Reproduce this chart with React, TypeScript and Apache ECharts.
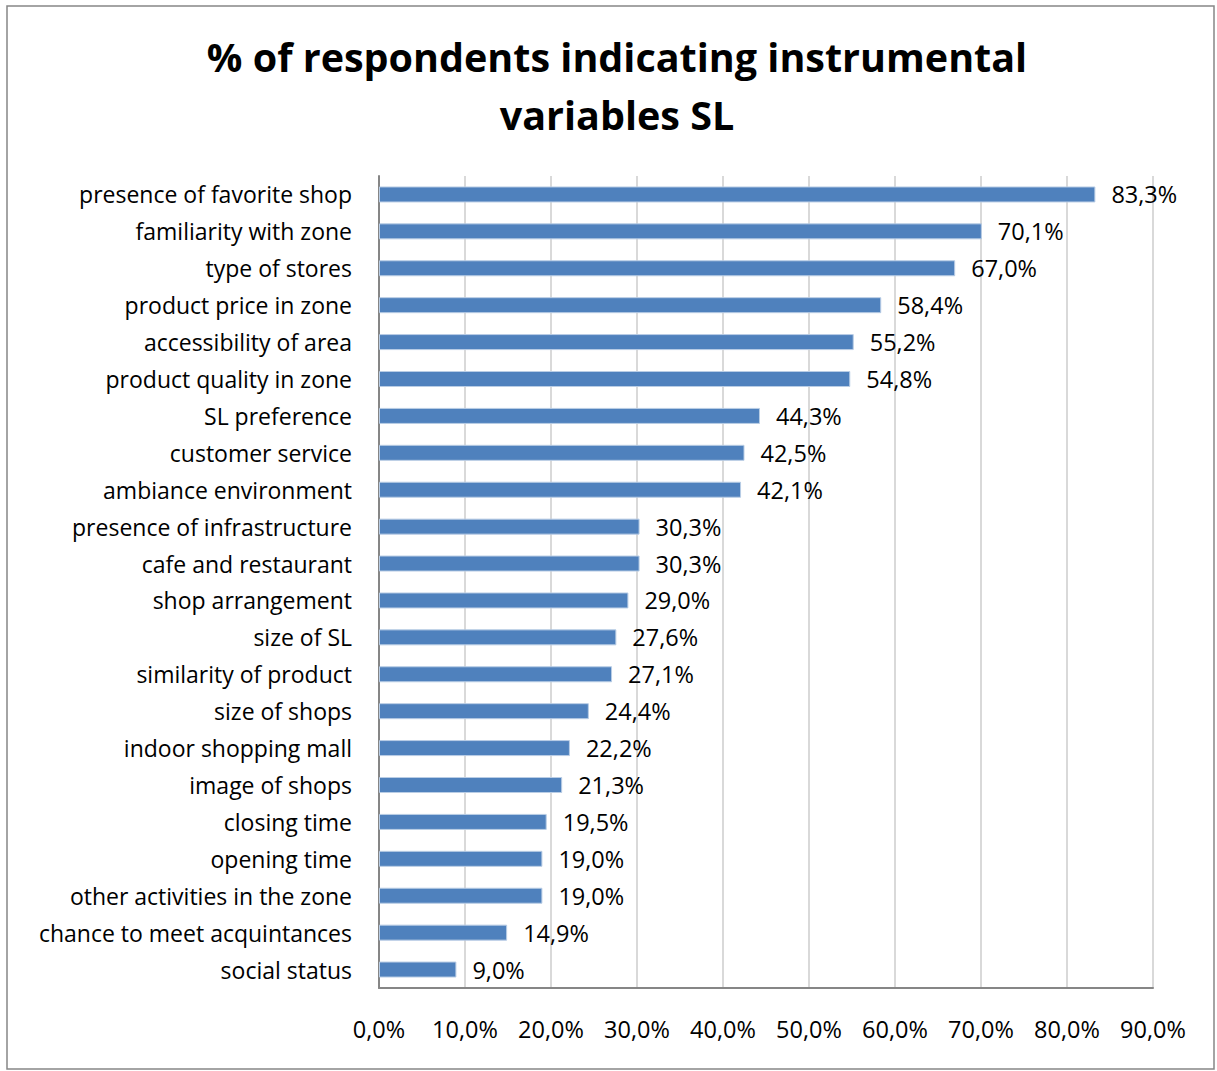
import React, { useEffect, useRef } from "react";
import * as echarts from "echarts";

// Share of respondents naming each instrumental variable (percent)
const categories = [
  "presence of favorite shop",
  "familiarity with zone",
  "type of stores",
  "product price in zone",
  "accessibility of area",
  "product quality in zone",
  "SL preference",
  "customer service",
  "ambiance environment",
  "presence of infrastructure",
  "cafe and restaurant",
  "shop arrangement",
  "size of SL",
  "similarity of product",
  "size of shops",
  "indoor shopping mall",
  "image of shops",
  "closing time",
  "opening time",
  "other activities in the zone",
  "chance to meet acquintances",
  "social status",
];

const values = [
  83.3, 70.1, 67.0, 58.4, 55.2, 54.8, 44.3, 42.5, 42.1, 30.3, 30.3, 29.0, 27.6,
  27.1, 24.4, 22.2, 21.3, 19.5, 19.0, 19.0, 14.9, 9.0,
];

const titleLines = ["% of respondents indicating instrumental", "variables SL"];

const FONT = "'Open Sans', Lato, sans-serif";
const pct = (v: number) => v.toFixed(1).replace(".", ",") + "%";

export default function App() {
  const ref = useRef<HTMLDivElement>(null);

  useEffect(() => {
    if (!ref.current) return;
    const chart = echarts.init(ref.current, undefined, { renderer: "svg" });
    chart.setOption({
      animation: false,
      backgroundColor: "#ffffff",
      textStyle: { fontFamily: FONT },
      title: {
        text: titleLines.join("\n"),
        left: 612,
        top: 23,
        textAlign: "center",
        textStyle: {
          fontFamily: FONT,
          fontSize: 39.5,
          fontWeight: "bold",
          color: "#000000",
          lineHeight: 58,
        },
      },
      graphic: [
        {
          type: "rect",
          shape: { x: 7, y: 6, width: 1207, height: 1063 },
          style: { fill: "none", stroke: "#868686", lineWidth: 1.5 },
          silent: true,
        },
      ],
      grid: { left: 379, top: 176, width: 774, height: 812, containLabel: false },
      xAxis: {
        type: "value",
        min: 0,
        max: 90,
        interval: 10,
        axisLine: { show: true, lineStyle: { color: "#868686", width: 2 } },
        axisTick: { show: false },
        splitLine: { show: true, lineStyle: { color: "#d9d9d9", width: 2 } },
        axisLabel: {
          margin: 29,
          fontSize: 23.5,
          color: "#000000",
          fontFamily: FONT,
          formatter: (v: number) => pct(v),
        },
      },
      yAxis: {
        type: "category",
        data: categories,
        inverse: true,
        axisLine: { show: true, lineStyle: { color: "#868686", width: 2 } },
        axisTick: { show: false },
        axisLabel: {
          margin: 27,
          fontSize: 23,
          color: "#000000",
          fontFamily: FONT,
        },
      },
      series: [
        {
          type: "bar",
          data: values,
          barWidth: 16,
          itemStyle: { color: "#4f81bd", borderColor: "#b9cde5", borderWidth: 1 },
          label: {
            show: true,
            position: "right",
            distance: 16,
            fontSize: 23.5,
            color: "#000000",
            fontFamily: FONT,
            formatter: (p: any) => pct(p.value),
          },
        },
      ],
    });
    return () => chart.dispose();
  }, []);

  return (
    <div
      ref={ref}
      style={{ position: "fixed", left: 0, top: 0, width: 1217, height: 1071 }}
    />
  );
}
